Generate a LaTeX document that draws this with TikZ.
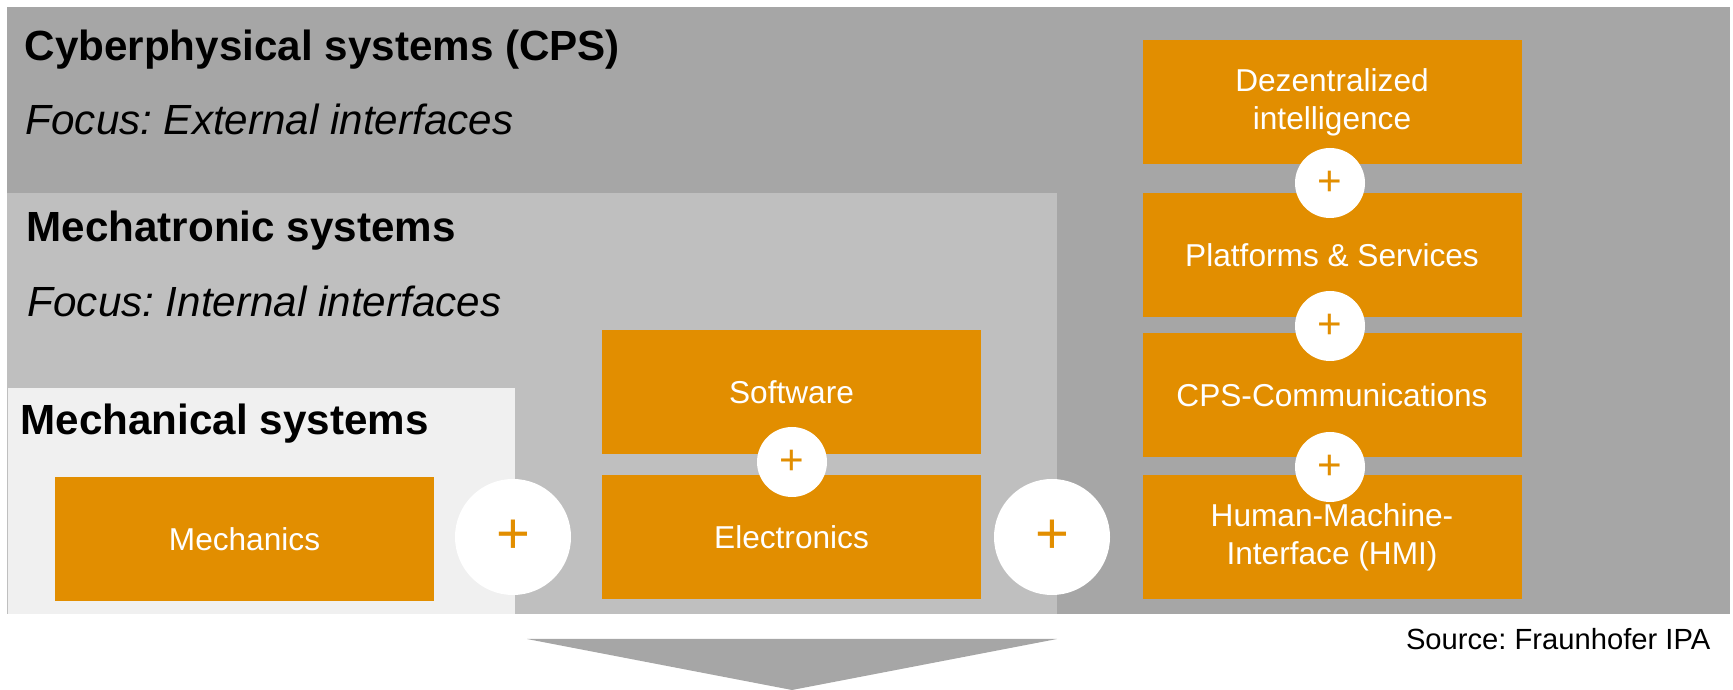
\documentclass[tikz,border=0pt]{standalone}
\usepackage{fontspec}
\setmainfont{Liberation Sans}
\frenchspacing
\definecolor{ipaorange}{RGB}{226,142,0}
\definecolor{cpsgray}{RGB}{166,166,166}
\definecolor{mtrgray}{RGB}{191,191,191}
\definecolor{mecgray}{RGB}{240,240,240}
\begin{document}
\begin{tikzpicture}[x=0.1mm, y=-0.1mm,
      block/.style={fill=ipaorange, text=white, align=center, minimum width=3.79cm,
        minimum height=1.24cm, inner sep=0pt, font=\fontsize{9}{10.8}\selectfont},
      plusbig/.style={circle, fill=white, text=ipaorange, minimum size=1.16cm,
        inner sep=0pt, font=\fontsize{16.5}{18}\selectfont},
      plussmall/.style={circle, fill=white, text=ipaorange, minimum size=0.70cm,
        inner sep=0pt, font=\fontsize{12}{14}\selectfont},
      title/.style={anchor=base west, inner sep=0pt, font=\fontsize{12}{14.4}\selectfont\bfseries},
      focus/.style={anchor=base west, inner sep=0pt, font=\fontsize{12}{14.4}\selectfont\itshape}
    ]
      \useasboundingbox (0,0) rectangle (1733,690);
      % system layers
      \fill[cpsgray] (7,7) rectangle (1730,614);
      \fill[mtrgray] (7,193) rectangle (1057,614);
      \fill[mecgray] (8,388) rectangle (515,614);
      \node[title] (cpst) at (24,61) {Cyberphysical systems (CPS)};
      \node[focus] (cpsf) at (25,135) {Focus: External interfaces};
      \node[title] (mtrt) at (26,242) {Mechatronic systems};
      \node[focus] (mtrf) at (27,317) {Focus: Internal interfaces};
      \node[title] (mect) at (20,435) {Mechanical systems};
      % components
      \node[block] (mech) at (244.5,539) {Mechanics};
      \node[block] (soft) at (791.5,392.5) {Software};
      \node[block] (elec) at (791.5,537) {Electronics};
      \foreach \name/\txt/\yc in {dez/{Dezentralized\\intelligence}/102,
          plat/{Platforms \& Services}/255, comm/{CPS-Communications}/395.5,
          hmi/{Human-Machine-\\Interface (HMI)}/537}{
        \node[block] (\name) at (1332,\yc) {\txt};
      }
      % plus signs
      \node[plusbig] (p1) at (513,537) {+};
      \node[plusbig] (p2) at (1052,537) {+};
      \node[plussmall] (p3) at (792,462) {+};
      \foreach \i/\yc in {4/183, 5/326, 6/467}{
        \node[plussmall] (p\i) at (1330,\yc) {+};
      }
      % arrow below
      \fill[cpsgray] (527,639) -- (1057,639) -- (792,690) -- cycle;
      \node[anchor=base east, inner sep=0pt, font=\fontsize{8.3}{10}\selectfont] (src) at (1711,650)
        {Source: Fraunhofer IPA};
    \end{tikzpicture}
\end{document}
